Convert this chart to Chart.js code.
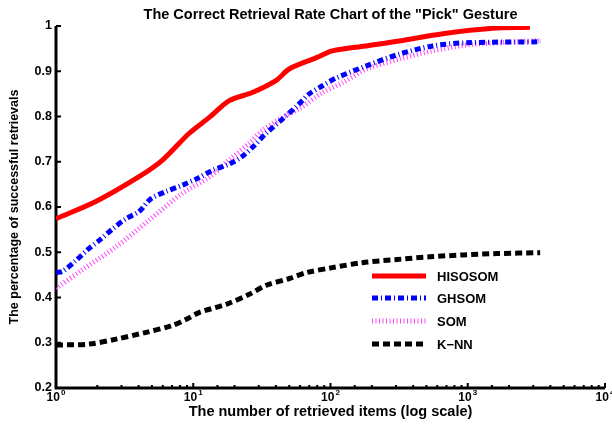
<!DOCTYPE html>
<html>
<head>
<meta charset="utf-8">
<script src="https://cdn.jsdelivr.net/npm/chart.js@4"></script>
<style>
  html, body { margin: 0; padding: 0; background: #fff; }
  #wrap { width: 612px; height: 425px; }
</style>
</head>
<body>
<div id="wrap"><canvas id="retrievalChart" width="612" height="425"></canvas></div>
<script>
// values (x = retrieved items, y = rate)
const chartTitle = 'The Correct Retrieval Rate Chart of the "Pick" Gesture';
const seriesNames = ['HISOSOM', 'GHSOM', 'SOM', 'K\u2212NN'];

const hisosomX = [1, 1.95, 4.03, 5.94, 9.35, 13.1, 18.3, 26.9, 40.3, 50, 79, 103, 180, 318, 660, 1520, 2840];
const hisosomY = [0.574, 0.612, 0.667, 0.703, 0.763, 0.798, 0.835, 0.853, 0.880, 0.905, 0.930, 0.945, 0.956, 0.967, 0.983, 0.995, 0.997];

const ghsomX = [1, 1.12, 1.39, 1.69, 2.12, 2.57, 3.23, 4.03, 4.91, 6.3, 8.3, 10.7, 13.8, 18.3, 22.8, 27.9, 34, 47.7, 57.3, 70, 87.5, 110, 183, 318, 555, 980, 3380];
const ghsomY = [0.455, 0.458, 0.481, 0.505, 0.529, 0.551, 0.574, 0.590, 0.618, 0.634, 0.648, 0.663, 0.681, 0.695, 0.712, 0.736, 0.763, 0.802, 0.824, 0.850, 0.868, 0.885, 0.912, 0.938, 0.956, 0.963, 0.965];

const somX = [1, 1.55, 2.74, 4.77, 8.3, 13.1, 19.3, 25.6, 31.9, 44.6, 59.4, 87.6, 123, 183, 318, 555, 980, 1720, 3380];
const somY = [0.42, 0.461, 0.512, 0.571, 0.630, 0.666, 0.710, 0.741, 0.769, 0.798, 0.818, 0.853, 0.875, 0.905, 0.927, 0.945, 0.958, 0.963, 0.968];

const knnX = [1, 1.74, 2.74, 4.54, 7.0, 8.9, 11.1, 17.4, 25.6, 34.1, 50.2, 66.8, 103, 171, 305, 528, 920, 1630, 3370];
const knnY = [0.295, 0.297, 0.308, 0.323, 0.338, 0.352, 0.367, 0.385, 0.407, 0.427, 0.442, 0.455, 0.466, 0.477, 0.484, 0.490, 0.494, 0.497, 0.499];

function toPoints(xs, ys) {
    return xs.map((x, i) => ({ x: x, y: ys[i] }));
}

function isDecade(v) {
    const e = Math.log10(v);
    return Math.abs(e - Math.round(e)) < 1e-6;
}

const FONT = '"Liberation Sans", Arial, Helvetica, sans-serif';

// axes, tick marks, 10^n labels, title and in-plot legend
const matlabLook = {
    id: 'matlabLook',
    beforeDatasetsDraw(chart) {
        const ctx = chart.ctx;
        const area = chart.chartArea;
        const xs = chart.scales.x;
        const ys = chart.scales.y;
        ctx.save();
        ctx.strokeStyle = '#000';
        ctx.lineWidth = 3;
        ctx.beginPath();
        ctx.moveTo(area.left, area.top);
        ctx.lineTo(area.left, area.bottom);
        ctx.lineTo(area.right, area.bottom);
        ctx.stroke();

        ctx.lineWidth = 2;
        ys.ticks.forEach(t => {
            const py = ys.getPixelForValue(t.value);
            ctx.beginPath();
            ctx.moveTo(area.left, py);
            ctx.lineTo(area.left + 5, py);
            ctx.stroke();
        });
        xs.ticks.forEach(t => {
            const px = xs.getPixelForValue(t.value);
            const len = isDecade(t.value) ? 5 : 3;
            ctx.beginPath();
            ctx.moveTo(px, area.bottom);
            ctx.lineTo(px, area.bottom - len);
            ctx.stroke();
        });

        // decade labels with a raised exponent
        ctx.fillStyle = '#000';
        ctx.textBaseline = 'alphabetic';
        ctx.textAlign = 'left';
        xs.ticks.forEach(t => {
            if (!t.label) return;
            const px = xs.getPixelForValue(t.value);
            const exp = String(Math.round(Math.log10(t.value)));
            ctx.font = 'bold 12px ' + FONT;
            const wb = ctx.measureText('10').width;
            ctx.font = 'bold 8px ' + FONT;
            const we = ctx.measureText(exp).width;
            const x0 = px - (wb + we + 1) / 2;
            ctx.font = 'bold 12px ' + FONT;
            ctx.fillText('10', x0, area.bottom + 13);
            ctx.font = 'bold 8px ' + FONT;
            ctx.fillText(exp, x0 + wb + 1, area.bottom + 7);
        });
        ctx.restore();
    },
    afterDraw(chart) {
        const ctx = chart.ctx;
        const area = chart.chartArea;
        ctx.save();
        ctx.fillStyle = '#000';
        ctx.font = 'bold 14.5px ' + FONT;
        ctx.textAlign = 'center';
        ctx.textBaseline = 'middle';
        ctx.fillText(chartTitle, (area.left + area.right) / 2, 15);

        // legend inside the plot
        const x0 = 372, x1 = 426;
        const rows = [276, 298, 321, 344];
        ctx.font = 'bold 13px ' + FONT;
        chart.data.datasets.forEach((ds, i) => {
            ctx.strokeStyle = ds.borderColor;
            ctx.lineWidth = ds.borderWidth;
            ctx.setLineDash(ds.borderDash || []);
            ctx.beginPath();
            ctx.moveTo(x0, rows[i]);
            ctx.lineTo(x1, rows[i]);
            ctx.stroke();
            ctx.setLineDash([]);
            ctx.textAlign = 'left';
            ctx.fillStyle = '#000';
            ctx.fillText(ds.label, 437, rows[i] + 1);
        });
        ctx.restore();
    }
};

const ctx = document.getElementById('retrievalChart');
new Chart(ctx, {
    type: 'line',
    data: {
        datasets: [
            {
                label: seriesNames[0],
                data: toPoints(hisosomX, hisosomY),
                borderColor: '#ff0000',
                borderWidth: 5
            },
            {
                label: seriesNames[1],
                data: toPoints(ghsomX, ghsomY),
                borderColor: '#0000ff',
                borderWidth: 5,
                borderDash: [6, 3, 1, 3]
            },
            {
                label: seriesNames[2],
                data: toPoints(somX, somY),
                borderColor: '#ff44ff',
                borderWidth: 5,
                borderDash: [1, 2.5]
            },
            {
                label: seriesNames[3],
                data: toPoints(knnX, knnY),
                borderColor: '#000000',
                borderWidth: 5,
                borderDash: [7, 4]
            }
        ]
    },
    options: {
        responsive: false,
        animation: false,
        devicePixelRatio: 1,
        layout: { padding: { top: 26, right: 7, left: 0, bottom: 0 } },
        elements: {
            point: { radius: 0 },
            line: { tension: 0.3, borderCapStyle: 'butt' }
        },
        plugins: {
            legend: { display: false },
            title: { display: false },
            tooltip: { enabled: false }
        },
        scales: {
            x: {
                type: 'logarithmic',
                min: 1,
                max: 10000,
                grid: { display: false, drawTicks: false },
                border: { display: false },
                afterFit: s => { s.height = 37; },
                ticks: {
                    display: false,
                    autoSkip: false,
                    maxRotation: 0,
                    callback: v => isDecade(v) ? '10^' + Math.round(Math.log10(v)) : ''
                },
                title: {
                    display: true,
                    text: 'The number of retrieved items (log scale)',
                    color: '#000',
                    font: { family: FONT, size: 14.5, weight: 'bold' },
                    padding: { top: 0, bottom: 4 }
                }
            },
            y: {
                min: 0.2,
                max: 1,
                grid: { display: false, drawTicks: false },
                border: { display: false },
                afterFit: s => { s.width = 56; },
                ticks: {
                    stepSize: 0.1,
                    padding: 4,
                    color: '#000',
                    font: { family: FONT, size: 12.5, weight: 'bold' },
                    callback: v => {
                        const r = Math.round(v * 10) / 10;
                        return r === 1 ? '1' : r.toFixed(1);
                    }
                },
                title: {
                    display: true,
                    text: 'The percentage of successful retrievals',
                    color: '#000',
                    font: { family: FONT, size: 12.5, weight: 'bold' },
                    padding: { top: 7, bottom: 0 }
                }
            }
        }
    },
    plugins: [matlabLook]
});
</script>
</body>
</html>
